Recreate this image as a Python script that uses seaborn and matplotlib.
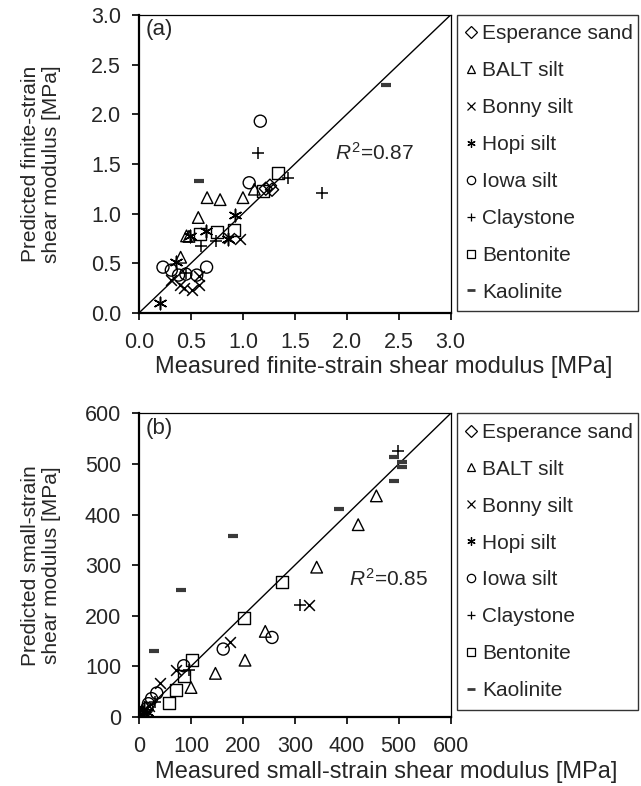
import matplotlib
matplotlib.use("Agg")
import matplotlib.pyplot as plt
from matplotlib.lines import Line2D
import seaborn as sns
import pandas as pd

sns.set_theme(style="white")
plt.rcParams["font.family"] = ["Liberation Sans", "DejaVu Sans"]
plt.rcParams["mathtext.fontset"] = "custom"
plt.rcParams["mathtext.rm"] = "Liberation Sans"
plt.rcParams["mathtext.it"] = "Liberation Sans:italic"

FS = 15
FS_TICK = 15.5
FS_XLABEL = 17

materials = ["Esperance sand", "BALT silt", "Bonny silt", "Hopi silt",
             "Iowa silt", "Claystone", "Bentonite", "Kaolinite"]

# ---- (a) finite-strain shear modulus [MPa]: measured / predicted ----
fin_esperance_meas = [1.22, 1.26, 1.28]
fin_esperance_pred = [1.25, 1.28, 1.24]
fin_balt_meas = [0.40, 0.457, 0.48, 0.57, 0.655, 0.78, 1.00, 1.11]
fin_balt_pred = [0.56, 0.775, 0.77, 0.96, 1.16, 1.14, 1.16, 1.245]
fin_bonny_meas = [0.31, 0.39, 0.435, 0.51, 0.58, 0.58, 0.87, 0.97]
fin_bonny_pred = [0.33, 0.28, 0.255, 0.23, 0.28, 0.37, 0.75, 0.745]
fin_hopi_meas = [0.20, 0.355, 0.49, 0.645, 0.86, 0.92]
fin_hopi_pred = [0.10, 0.51, 0.775, 0.82, 0.745, 0.99]
fin_iowa_meas = [0.23, 0.31, 0.38, 0.45, 0.555, 0.65, 1.06, 1.167]
fin_iowa_pred = [0.46, 0.43, 0.38, 0.39, 0.38, 0.46, 1.31, 1.93]
fin_clay_meas = [0.45, 0.60, 0.74, 1.145, 1.43, 1.76]
fin_clay_pred = [0.40, 0.67, 0.72, 1.61, 1.36, 1.21]
fin_bent_meas = [0.59, 0.75, 0.91, 1.19, 1.34]
fin_bent_pred = [0.79, 0.81, 0.83, 1.23, 1.41]
fin_kaol_meas = [0.58, 2.38]
fin_kaol_pred = [1.33, 2.29]

# ---- (b) small-strain shear modulus [MPa]: measured / predicted ----
sm_esperance_meas = [3, 6, 8]
sm_esperance_pred = [4, 8, 5]
sm_balt_meas = [100, 147, 204, 243, 342, 422, 457]
sm_balt_pred = [58, 86, 112, 169, 296, 380, 437]
sm_bonny_meas = [20, 40, 72, 176, 328]
sm_bonny_pred = [22, 66, 92, 147, 222]
sm_hopi_meas = [2, 5, 10, 15]
sm_hopi_pred = [5, 3, 15, 10]
sm_iowa_meas = [5, 15, 18, 24, 34, 86, 162, 256]
sm_iowa_pred = [7, 17, 26, 36, 47, 101, 134, 157]
sm_clay_meas = [30, 96, 310, 498]
sm_clay_pred = [30, 92, 222, 525]
sm_bent_meas = [57, 72, 86, 102, 202, 276]
sm_bent_pred = [28, 54, 81, 113, 196, 266]
sm_kaol_meas = [29, 80, 180, 385, 491, 491, 507, 507]
sm_kaol_pred = [130, 250, 358, 412, 466, 514, 504, 495]

fin_meas = [fin_esperance_meas, fin_balt_meas, fin_bonny_meas, fin_hopi_meas,
            fin_iowa_meas, fin_clay_meas, fin_bent_meas, fin_kaol_meas]
fin_pred = [fin_esperance_pred, fin_balt_pred, fin_bonny_pred, fin_hopi_pred,
            fin_iowa_pred, fin_clay_pred, fin_bent_pred, fin_kaol_pred]
sm_meas = [sm_esperance_meas, sm_balt_meas, sm_bonny_meas, sm_hopi_meas,
           sm_iowa_meas, sm_clay_meas, sm_bent_meas, sm_kaol_meas]
sm_pred = [sm_esperance_pred, sm_balt_pred, sm_bonny_pred, sm_hopi_pred,
           sm_iowa_pred, sm_clay_pred, sm_bent_pred, sm_kaol_pred]

fin_ticks = [0.0, 0.5, 1.0, 1.5, 2.0, 2.5, 3.0]
sm_ticks = [0, 100, 200, 300, 400, 500, 600]


def to_frame(meas, pred):
    rows = []
    for name, xs, ys in zip(materials, meas, pred):
        for x, y in zip(xs, ys):
            rows.append({"material": name, "measured": x, "predicted": y})
    return pd.DataFrame(rows)


# marker style per material: (marker, filled-shape?, size, linewidth, colour)
styles = {
    "Esperance sand": ("D", True, 45, 1.0, "black"),
    "BALT silt": ("^", True, 70, 1.0, "black"),
    "Bonny silt": ("x", False, 60, 1.1, "black"),
    "Hopi silt": ((6, 2, 0), False, 80, 1.1, "black"),
    "Iowa silt": ("o", True, 75, 1.0, "black"),
    "Claystone": ("+", False, 65, 1.1, "black"),
    "Bentonite": ("s", True, 75, 1.0, "black"),
    "Kaolinite": ("_", False, 55, 3.0, "#3a3a3a"),
}


def draw_panel(ax, df, lim, ticks, fmt, xlabel, ylabel, tag, r2, r2_pos):
    ax.plot([0, lim], [0, lim], color="black", lw=1.0, zorder=1)
    for name in materials:
        sub = df[df["material"] == name]
        m, filled, s, lw, c = styles[name]
        if filled:
            sns.scatterplot(data=sub, x="measured", y="predicted", ax=ax,
                            marker=m, s=s, facecolor="none", edgecolor=c,
                            linewidth=lw, legend=False, zorder=3)
        else:
            sns.scatterplot(data=sub, x="measured", y="predicted", ax=ax,
                            marker=m, s=s, color=c, linewidth=lw,
                            legend=False, zorder=3)
    ax.set_xlim(0, lim)
    ax.set_ylim(0, lim)
    ax.set_xticks(ticks)
    ax.set_yticks(ticks)
    ax.set_xticklabels([fmt.format(t) for t in ticks], fontsize=FS_TICK)
    ax.set_yticklabels([fmt.format(t) for t in ticks], fontsize=FS_TICK)
    ax.tick_params(direction="out", length=5, width=1.2, color="black",
                   pad=8, bottom=True, left=True)
    ax.tick_params(axis="x", pad=9)
    for side in ["left", "bottom"]:
        ax.spines[side].set_linewidth(1.6)
        ax.spines[side].set_color("black")
    for side in ["top", "right"]:
        ax.spines[side].set_linewidth(0.9)
        ax.spines[side].set_color("black")

    ax.set_xlabel(xlabel, fontsize=FS_XLABEL, ha="left")
    ax.xaxis.set_label_coords(0.05, -0.145)
    ax.set_ylabel(ylabel, fontsize=FS, linespacing=1.15)
    ax.yaxis.set_label_coords(-0.25, 0.5)

    ax.text(0.02, 0.985, tag, transform=ax.transAxes, fontsize=16,
            va="top", ha="left")
    ax.text(r2_pos[0], r2_pos[1], r"$R^{\mathrm{2}}$=" + r2, fontsize=FS,
            va="center", ha="left")

    handles = []
    for name in materials:
        m, filled, s, lw, c = styles[name]
        handles.append(Line2D([], [], linestyle="none", marker=m,
                              markersize=6,
                              markerfacecolor="none" if filled else c,
                              markeredgecolor=c,
                              markeredgewidth=0.9 if name != "Kaolinite" else 2.0))
    leg = ax.legend(handles, materials, loc="upper left",
                    bbox_to_anchor=(1.022, 0.0, 0.58, 1.0), mode="expand",
                    borderaxespad=0, fontsize=FS, frameon=True, fancybox=False,
                    handlelength=0.4, handletextpad=0.35, labelspacing=0.86,
                    borderpad=0.45)
    leg.get_frame().set_edgecolor("black")
    leg.get_frame().set_linewidth(1.0)


fig = plt.figure(figsize=(6.41, 7.86), dpi=100)
ax_a = fig.add_axes([0.217, 0.602, 0.486, 0.379])
ax_b = fig.add_axes([0.217, 0.088, 0.486, 0.386])

draw_panel(ax_a, to_frame(fin_meas, fin_pred), 3.0, fin_ticks, "{:.1f}",
           "Measured finite-strain shear modulus [MPa]",
           "Predicted finite-strain\nshear modulus [MPa]",
           "(a)", "0.87", (1.89, 1.61))
draw_panel(ax_b, to_frame(sm_meas, sm_pred), 600, sm_ticks, "{:.0f}",
           "Measured small-strain shear modulus [MPa]",
           "Predicted small-strain\nshear modulus [MPa]",
           "(b)", "0.85", (405, 272))

fig.savefig("out.png", dpi=100)
